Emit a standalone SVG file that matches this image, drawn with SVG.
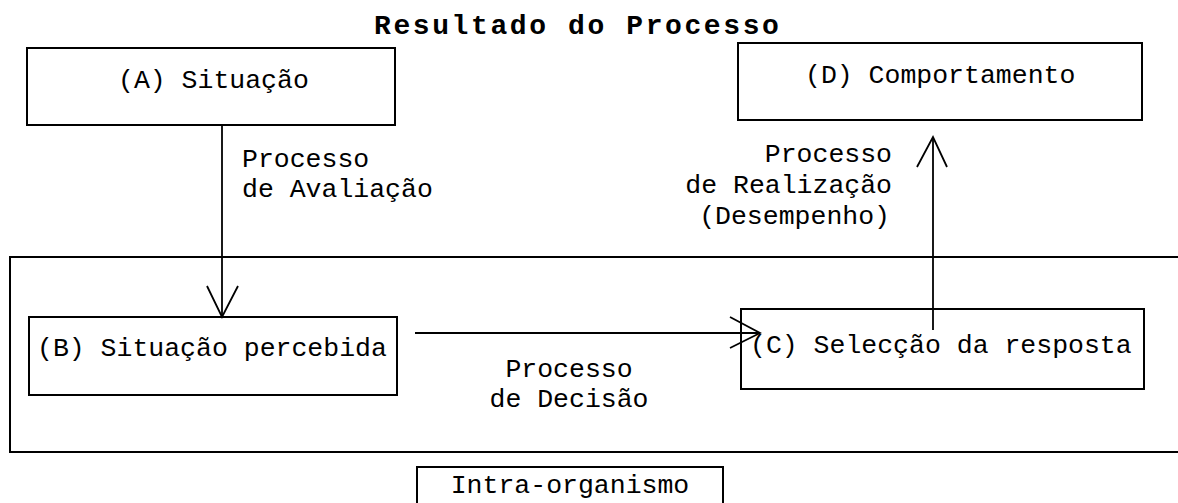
<svg xmlns="http://www.w3.org/2000/svg" width="1178" height="503" viewBox="0 0 1178 503">
<style>
  .box { fill: #fff; stroke: #000; stroke-width: 2; }
  .frame { fill: none; stroke: #000; stroke-width: 2; }
  .t { font-family: "Liberation Mono", "DejaVu Sans Mono", monospace; font-size: 26.5px; fill: #000; }
  .title { font-family: "Liberation Mono", "DejaVu Sans Mono", monospace; font-size: 28px; font-weight: bold; letter-spacing: 2.6px; fill: #000; }
  .conn { fill: none; stroke: #000; stroke-width: 1.8; }
</style>
<rect width="1178" height="503" fill="#fff"/>
<text class="title" x="374" y="34">Resultado do Processo</text>
<g id="intra-organismo-area">
  <path class="frame" d="M1178,257 H10 V452 H1178"/>
</g>
<g id="node-A">
  <rect class="box" x="27" y="48" width="368" height="77"/>
  <text class="t" x="118" y="88">(A) Situação</text>
</g>
<g id="node-D">
  <rect class="box" x="738" y="43" width="404" height="77"/>
  <text class="t" x="805" y="83">(D) Comportamento</text>
</g>
<g id="node-B">
  <rect class="box" x="29" y="317" width="368" height="78"/>
  <text class="t" x="37" y="356">(B) Situação percebida</text>
</g>
<g id="node-C">
  <rect class="box" x="741" y="309" width="403" height="80"/>
  <text class="t" x="750" y="353">(C) Selecção da resposta</text>
</g>
<g id="label-intra">
  <path class="frame" d="M417,504 V467 H723 V504"/>
  <text class="t" x="570" y="493" text-anchor="middle">Intra-organismo</text>
</g>
<g id="connectors">
  <line class="conn" x1="222" y1="125" x2="222" y2="317"/>
  <polyline class="conn" points="207,286 222,317 238,286"/>
  <line class="conn" x1="415" y1="333" x2="760" y2="333"/>
  <polyline class="conn" points="730,317 760,333 730,348"/>
  <line class="conn" x1="933" y1="330" x2="933" y2="137"/>
  <polyline class="conn" points="917,167 933,137 947,167"/>
</g>
<g id="connector-labels">
  <text class="t" x="242" y="167">Processo</text>
  <text class="t" x="242" y="197">de Avaliação</text>
  <text class="t" x="892" y="162" text-anchor="end">Processo</text>
  <text class="t" x="892" y="193" text-anchor="end">de Realização</text>
  <text class="t" x="890" y="224" text-anchor="end">(Desempenho)</text>
  <text class="t" x="569" y="377" text-anchor="middle">Processo</text>
  <text class="t" x="569" y="407" text-anchor="middle">de Decisão</text>
</g>
</svg>
